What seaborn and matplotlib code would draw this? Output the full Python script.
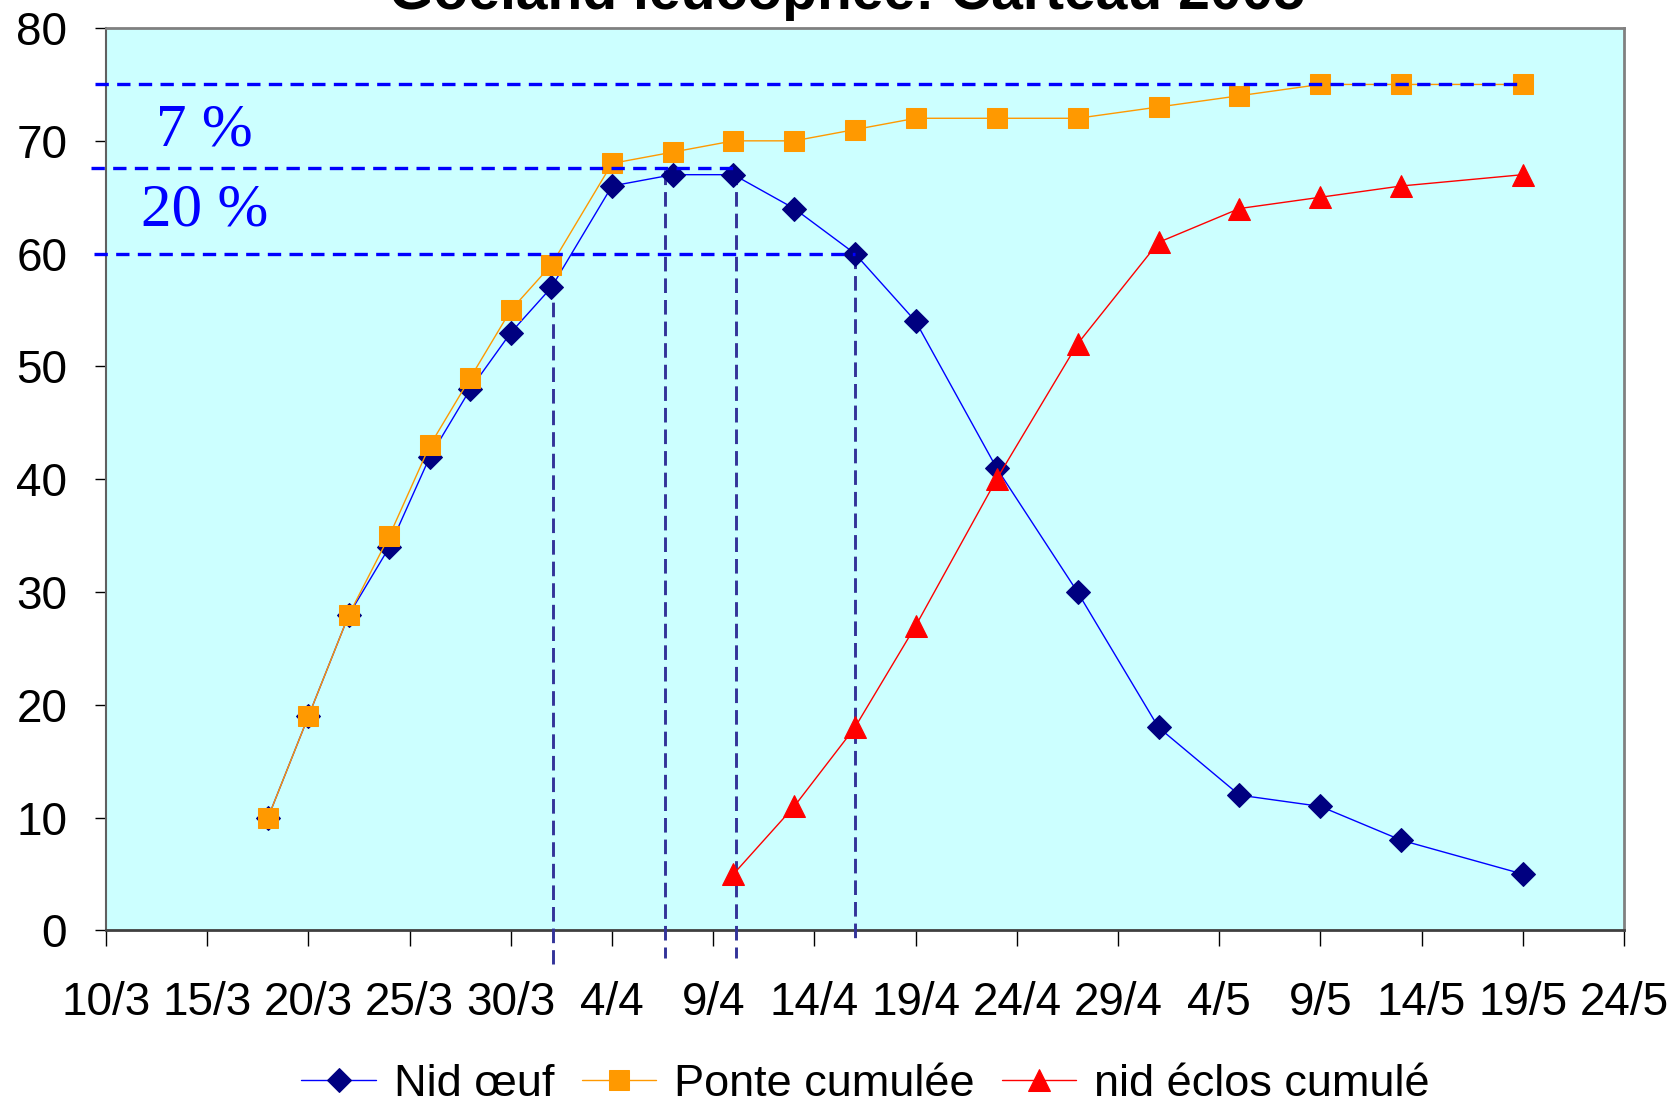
import matplotlib
matplotlib.use("Agg")
import matplotlib.pyplot as plt
from matplotlib import font_manager
import pandas as pd
import seaborn as sns

# ---------------- data ----------------
title = "Goéland leucophée: Carteau 2005"
series_names = ["Nid œuf", "Ponte cumulée", "nid éclos cumulé"]

dates = ["18/3", "20/3", "22/3", "24/3", "26/3", "28/3", "30/3", "1/4", "4/4", "7/4",
         "10/4", "13/4", "16/4", "19/4", "23/4", "27/4", "1/5", "5/5", "9/5", "13/5", "19/5"]
nid_oeuf = [10, 19, 28, 34, 42, 48, 53, 57, 66, 67, 67, 64, 60, 54, 41, 30, 18, 12, 11, 8, 5]
ponte_cumulee = [10, 19, 28, 35, 43, 49, 55, 59, 68, 69, 70, 70, 71, 72, 72, 72, 73, 74, 75, 75, 75]
eclos_dates = ["10/4", "13/4", "16/4", "19/4", "23/4", "27/4", "1/5", "5/5", "9/5", "13/5", "19/5"]
nid_eclos_cumule = [5, 11, 18, 27, 40, 52, 61, 64, 65, 66, 67]

x_tick_labels = ["10/3", "15/3", "20/3", "25/3", "30/3", "4/4", "9/4", "14/4", "19/4",
                 "24/4", "29/4", "4/5", "9/5", "14/5", "19/5", "24/5"]
y_ticks = [0, 10, 20, 30, 40, 50, 60, 70, 80]

# hand-drawn guide lines (levels in y units, positions in days after 10/3)
guide_levels = [75, 67.6, 60]
guide_level_start = [-0.55, -0.75, -0.6]
guide_level_end = [69.97, 31.1, 37.0]
guide_days = [22.1, 27.6, 31.1, 37.0]
guide_day_top = [59.5, 67.4, 67.4, 60]
guide_day_bottom = [-3.0, -2.4, -2.4, -0.95]
zone_labels = ["7 %", "20 %"]
zone_label_y = [70.9, 63.8]
zone_label_day = 4.85


def day(s):
    d, m = map(int, s.split("/"))
    return (pd.Timestamp(2005, m, d) - pd.Timestamp(2005, 3, 10)).days


# ---------------- style ----------------
sns.set_style("white")
plt.rcParams["font.family"] = ["Liberation Sans", "DejaVu Sans"]
plt.rcParams["text.color"] = "black"
lab_family = ["Liberation Sans", "DejaVu Sans"]
lab_size = 33

fig = plt.figure(figsize=(16.81, 11.08), dpi=100)
ax = fig.add_axes([0.0631, 0.1602, 0.9030, 0.8145])
ax.set_facecolor("#CCFFFF")

df = pd.DataFrame({"day": [day(d) for d in dates],
                   "nid": nid_oeuf, "ponte": ponte_cumulee})
df_ecl = pd.DataFrame({"day": [day(d) for d in eclos_dates], "eclos": nid_eclos_cumule})

sns.lineplot(data=df, x="day", y="nid", ax=ax, color="#0000FF", lw=1.0,
             marker="D", markersize=12.5, markerfacecolor="#000080",
             markeredgecolor="#000080", label=series_names[0], zorder=4)
sns.lineplot(data=df, x="day", y="ponte", ax=ax, color="#FF9900", lw=1.0,
             marker="s", markersize=15, markerfacecolor="#FF9900",
             markeredgecolor="#FF9900", label=series_names[1], zorder=5)
sns.lineplot(data=df_ecl, x="day", y="eclos", ax=ax, color="#FF0000", lw=1.0,
             marker="^", markersize=16, markerfacecolor="#FF0000",
             markeredgecolor="#FF0000", label=series_names[2], zorder=6)

# guide lines
for lvl, x0, x1 in zip(guide_levels, guide_level_start, guide_level_end):
    ax.plot([x0, x1], [lvl, lvl], color="#0000FF", lw=2.4, dashes=(4, 2.5),
            clip_on=False, zorder=7)
for xd, yt, yb in zip(guide_days, guide_day_top, guide_day_bottom):
    ax.plot([xd, xd], [yt, yb], color="#333399", lw=2.1, dashes=(5, 2.4),
            clip_on=False, zorder=3)
for lab, yy in zip(zone_labels, zone_label_y):
    ax.text(zone_label_day, yy, lab, color="#0000FF", fontsize=44,
            family=["Liberation Serif", "DejaVu Serif"], ha="center", va="center", zorder=8)

# axes
ax.set_xlim(0, 75)
ax.set_ylim(0, 80)
ax.set_xticks([day(t) for t in x_tick_labels])
ax.set_xticklabels(x_tick_labels)
ax.set_yticks(y_ticks)
ax.set_xlabel("")
ax.set_ylabel("")
ax.tick_params(axis="x", direction="out", length=11.5, width=1, pad=25,
               labelsize=lab_size, colors="black", bottom=True)
ax.tick_params(axis="y", direction="out", length=8, width=1, pad=20,
               labelsize=lab_size, colors="black", left=True)
for side in ["top", "right"]:
    ax.spines[side].set_color("#808080")
    ax.spines[side].set_linewidth(2)
ax.spines["left"].set_color("#606060")
ax.spines["left"].set_linewidth(1.5)
ax.spines["bottom"].set_color("#404040")
ax.spines["bottom"].set_linewidth(2)

handles, labels = ax.get_legend_handles_labels()
if ax.get_legend() is not None:
    ax.get_legend().remove()
fig.legend(handles, labels, loc="center", bbox_to_anchor=(0.515, 0.021), ncol=3,
           frameon=False, handlelength=1.65, handletextpad=0.4,
           columnspacing=0.6, numpoints=1, labelcolor="black",
           prop=font_manager.FontProperties(family=lab_family, size=32.5))

fig.text(0.504, 0.9919, title, ha="center", va="baseline", fontsize=41,
         fontweight="bold", color="black")

fig.savefig("out.png", dpi=100)
